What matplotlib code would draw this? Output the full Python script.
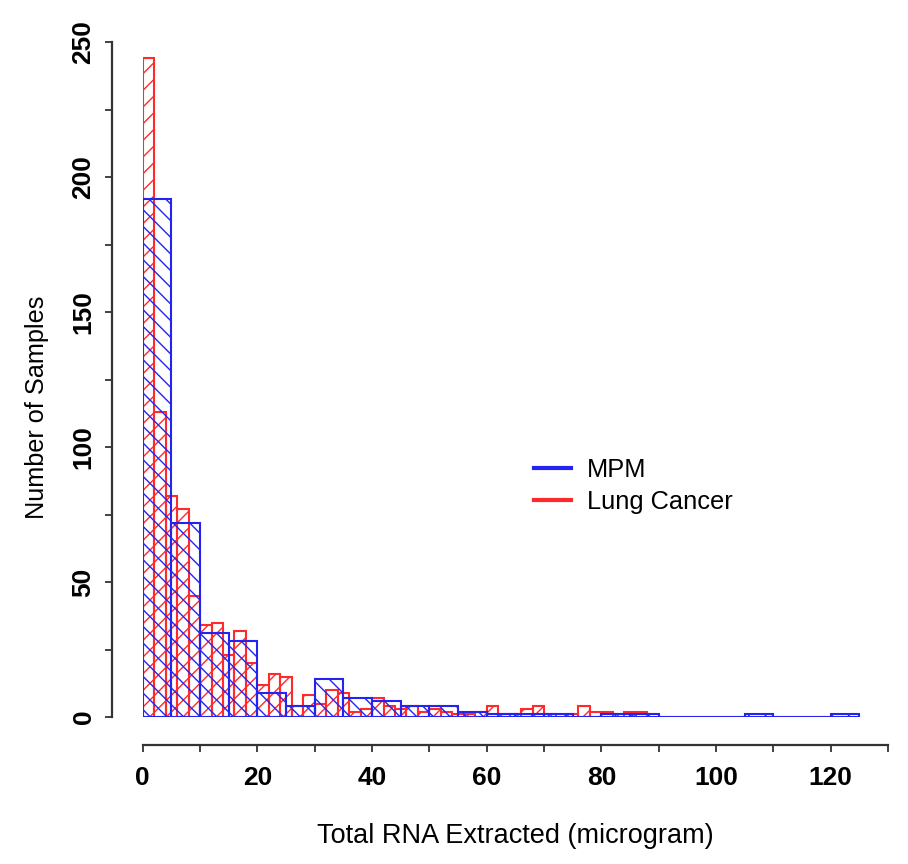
import numpy as np
import matplotlib
matplotlib.use("Agg")
import matplotlib.pyplot as plt

plt.rcParams['font.family'] = ['Liberation Sans', 'DejaVu Sans']
plt.rcParams['hatch.linewidth'] = 1.0

# histogram counts
lung_width = 2
lung_counts = [244, 113, 82, 77, 45, 34, 35, 23, 32, 20,
               12, 16, 15, 4, 8, 5, 10, 9, 2, 3,
               7, 4, 3, 4, 2, 3, 2, 1, 1, 2,
               4, 1, 1, 3, 4, 1, 0, 1, 4, 2,
               2, 1, 2, 2]
mpm_width = 5
mpm_counts = [192, 72, 31, 28, 9, 4, 14, 7, 6, 4,
              4, 2, 1, 1, 1, 0, 1, 1, 0, 0,
              0, 1, 0, 0, 1]

x_ticks = [0, 20, 40, 60, 80, 100, 120]
y_ticks = [0, 50, 100, 150, 200, 250]

red = '#ff2a2a'
blue = '#2424f0'

fig = plt.figure(figsize=(9.08, 8.64), dpi=100)
ax = fig.add_axes([0.1572, 0.1701, 0.8208, 0.78125])

lung_left = np.arange(len(lung_counts)) * lung_width
mpm_left = np.arange(len(mpm_counts)) * mpm_width

ax.bar(lung_left, lung_counts, width=lung_width, align='edge',
       facecolor='none', edgecolor=red, linewidth=1.5, hatch='//')
ax.bar(mpm_left, mpm_counts, width=mpm_width, align='edge',
       facecolor='none', edgecolor=blue, linewidth=1.5, hatch='\\\\')

ax.set_xlim(0, 130)
ax.set_ylim(0, 250)

for s in ['top', 'right']:
    ax.spines[s].set_visible(False)
ax.spines['bottom'].set_position(('outward', 20))
ax.spines['left'].set_position(('outward', 22))
ax.spines['bottom'].set_bounds(0, 130)
ax.spines['left'].set_bounds(0, 250)
for s in ['bottom', 'left']:
    ax.spines[s].set_color('#333333')
    ax.spines[s].set_linewidth(1.6)

ax.set_xticks(np.arange(0, 131, 10))
ax.set_xticklabels([str(v) if v in x_ticks else '' for v in range(0, 131, 10)])
ax.set_yticks(np.arange(0, 251, 25))
ax.set_yticklabels([str(v) if v in y_ticks else '' for v in range(0, 251, 25)],
                   rotation=90, va='center')
ax.tick_params(length=5, width=1.3, color='#333333', labelsize=19, pad=10)
ax.tick_params(axis='y', pad=7)
for lab in ax.get_xticklabels() + ax.get_yticklabels():
    lab.set_fontweight('bold')

ax.set_xlabel('Total RNA Extracted (microgram)', fontsize=19.5, labelpad=24)
ax.set_ylabel('Number of Samples', fontsize=18.2)
ax.yaxis.set_label_coords(-0.126, 0.459)

ax.plot([], [], color=blue, linewidth=3, label='MPM')
ax.plot([], [], color=red, linewidth=3, label='Lung Cancer')
ax.legend(loc='center left', bbox_to_anchor=(0.5077, 0.342), frameon=False,
          borderpad=0, fontsize=18.3, handlelength=1.48, handletextpad=0.6,
          labelspacing=0.3)

fig.savefig('out.png', dpi=100)
